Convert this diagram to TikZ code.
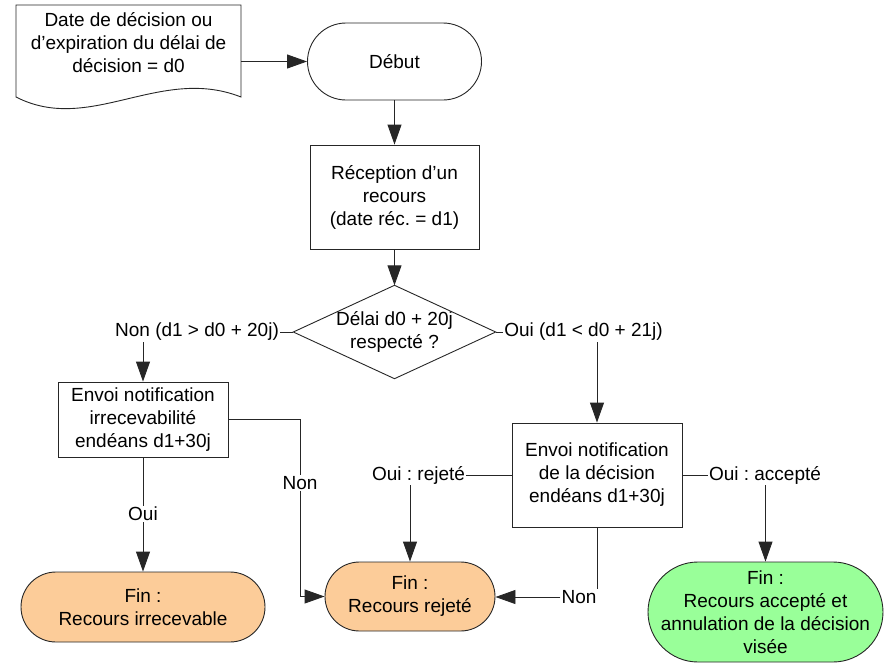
\documentclass[tikz,border=0pt]{standalone}
\usepackage{fontspec}
\setmainfont{Liberation Sans}
\usetikzlibrary{arrows.meta}
\definecolor{finorange}{RGB}{252,204,153}
\definecolor{fingreen}{RGB}{153,255,153}
\frenchspacing
\begin{document}
\begin{tikzpicture}[x=1pt,y=-1pt,
  font=\fontsize{19}{23}\selectfont\frenchspacing,
  line/.style={draw=black!85, line width=0.9pt},
  arr/.style={line, -{Triangle[length=20pt,width=14pt]}},
  box/.style={draw=black!85, line width=0.9pt, rectangle, align=center, inner sep=0pt, minimum width=170pt},
  terminal/.style={draw=black!85, line width=0.9pt, rectangle, align=center, inner sep=0pt},
  lbl/.style={inner sep=1pt}]
\useasboundingbox (0,0) rectangle (884,664);

% document shape
\node[align=center, inner sep=0pt, minimum width=225pt] (doc) at (128.5,43) {Date de décision ou\\d’expiration du délai de\\décision = d0};
\draw[line] (16,5) -- (241,5) -- (241,97) .. controls (160,65) and (90,135) .. (16,97) -- cycle;

\node[terminal, rounded corners=38.5pt, minimum width=174pt, minimum height=77pt] (start) at (394.5,61.5) {Début};
\node[box, minimum width=169pt, minimum height=104pt] (rec) at (394.5,197) {Réception d’un\\recours\\(date réc. = d1)};
\node[align=center, inner sep=0pt, minimum width=202pt, minimum height=93pt] (dec) at (394.5,332) {Délai d0 + 20j\\respecté ?};
\draw[line] (dec.north) -- (dec.east) -- (dec.south) -- (dec.west) -- cycle;

\node[box, minimum height=75pt] (irr) at (143,419.5) {Envoi notification\\irrecevabilité\\endéans d1+30j};
\node[box, minimum height=104pt] (dcs) at (597,475) {Envoi notification\\de la décision\\endéans d1+30j};

\node[terminal, fill=finorange, rounded corners=35pt, minimum width=244pt, minimum height=70pt] (f1) at (143,607) {Fin :\\Recours irrecevable};
\node[terminal, fill=finorange, rounded corners=34.5pt, minimum width=170pt, minimum height=69pt] (f2) at (410,596.5) {Fin :\\Recours rejeté};
\node[terminal, fill=fingreen, rounded corners=50pt, minimum width=235pt, minimum height=100pt] (f3) at (765.5,612) {Fin :\\Recours accepté et\\annulation de la décision\\visée};

% connectors
\draw[arr] (doc.east |- start.west) -- (start.west);
\draw[arr] (start.south) -- (rec.north);
\draw[arr] (rec.south) -- (dec.north);

\node[lbl] (l1) at (197,332) {Non (d1 > d0 + 20j)};
\draw[line] (dec.west) -- (l1.east);
\draw[arr] (l1.south -| irr.north) -- (irr.north);

\node[lbl] (l2) at (583.5,332) {Oui (d1 < d0 + 21j)};
\draw[line] (dec.east) -- (l2.west);
\draw[arr] (l2.south -| dcs.north) -- (dcs.north);

\node[lbl] (l3) at (300,483) {Non};
\draw[line] (irr.east) -| (l3.north);
\draw[arr] (l3.south) |- (f2.west);

\node[lbl] (l4) at (143,514) {Oui};
\draw[line] (irr.south) -- (l4.north);
\draw[arr] (l4.south) -- (f1.north);

\node[lbl] (l5) at (418.5,475) {Oui : rejeté};
\draw[line] (dcs.west) -- (l5.east);
\draw[arr] (l5.south -| f2.north) -- (f2.north);

\node[lbl] (l6) at (765,475) {Oui : accepté};
\draw[line] (dcs.east) -- (l6.west);
\draw[arr] (l6.south -| f3.north) -- (f3.north);

\node[lbl] (l7) at (579,597) {Non};
\draw[line] (dcs.south) -- (dcs.south |- l7.north);
\draw[arr] (l7.west) -- (l7.west -| f2.east);
\end{tikzpicture}
\end{document}
